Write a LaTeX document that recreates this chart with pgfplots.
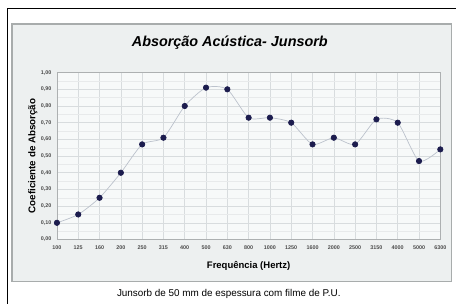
\documentclass[border=0pt]{standalone}
\usepackage{fontspec}
\setmainfont{Liberation Sans}
\usepackage{pgfplots}
\pgfplotsset{compat=1.18}
\definecolor{boxfill}{HTML}{EDF0F0}
\definecolor{boxedge}{HTML}{A8ACAC}
\definecolor{plotbg}{HTML}{F7F9F9}
\definecolor{gridc}{HTML}{D8DCDE}
\definecolor{mk}{HTML}{1C1C4E}
\definecolor{ln}{HTML}{BCC2CC}
\begin{document}
\begin{tikzpicture}[x=1pt,y=1pt]
\fill[white] (0,0) rectangle (456,304);
\draw[black,line width=0.8pt] (7,0) -- (7,296) -- (456,296);
\draw[boxedge,line width=1.4pt,fill=boxfill] (12,22) rectangle (452,280);
\node[font=\fontsize{14.4}{16}\selectfont\bfseries\itshape] at (230,261) {Absorção Acústica- Junsorb};
\node[font=\fontsize{9.9}{11}\selectfont] at (229,10) {Junsorb de 50 mm de espessura com filme de P.U.};
\begin{axis}[
  at={(57pt,64.3pt)}, anchor=south west,
  scale only axis, width=383.7pt, height=167pt,
  xmin=0, xmax=18, ymin=0, ymax=1,
  xtick={0,...,18},
  xticklabels={100,125,160,200,250,315,400,500,630,800,1000,1250,1600,2000,2500,3150,4000,5000,6300},
  ytick={0,0.1,...,1.0},
  minor ytick={0.05,0.15,...,0.95},
  yticklabel style={xshift=-2pt,/pgf/number format/.cd,fixed,fixed zerofill,precision=2,use comma},
  xticklabel style={yshift=-2.5pt},
  /pgf/number format/assume math mode=true,
  tick label style={font=\fontsize{5.4}{6}\selectfont\bfseries, text=black!70},
  major tick length=0pt, minor tick length=0pt,
  grid=both,
  major grid style={gridc, line width=0.5pt},
  minor grid style={gridc!60, line width=0.4pt},
  axis line style={gridc!80!black, line width=0.5pt},
  axis background/.style={fill=plotbg},
  xlabel={Frequência (Hertz)},
  ylabel={Coeficiente de Absorção},
  xlabel style={font=\fontsize{9.5}{11}\selectfont\bfseries, at={(axis description cs:0.5,0)}, anchor=north, yshift=-18pt},
  ylabel style={font=\fontsize{9.8}{11}\selectfont\bfseries, at={(axis description cs:0,0.5)}, anchor=south, yshift=16pt},
]
\addplot[ln, line width=0.7pt, smooth, tension=0.4, mark=*, mark size=2.7pt,
  mark options={fill=mk, draw=mk}] coordinates {
(0,0.10) (1,0.15) (2,0.25) (3,0.40) (4,0.57) (5,0.61) (6,0.80) (7,0.91) (8,0.90)
(9,0.73) (10,0.73) (11,0.70) (12,0.57) (13,0.61) (14,0.57) (15,0.72) (16,0.70) (17,0.47) (18,0.54)
};
\end{axis}
\end{tikzpicture}
\end{document}
